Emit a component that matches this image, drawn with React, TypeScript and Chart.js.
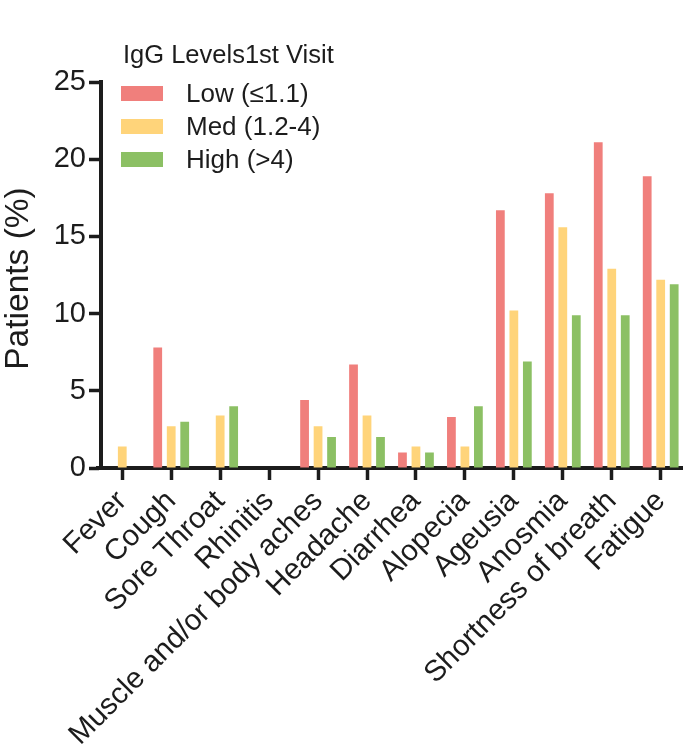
import React, { useEffect, useRef } from "react";
import { Chart, registerables } from "chart.js";

Chart.register(...registerables);

const categories = [
  "Fever",
  "Cough",
  "Sore Throat",
  "Rhinitis",
  "Muscle and/or body aches",
  "Headache",
  "Diarrhea",
  "Alopecia",
  "Ageusia",
  "Anosmia",
  "Shortness of breath",
  "Fatigue",
];
const lowValues = [0, 7.8, 0, 0, 4.4, 6.7, 1.0, 3.3, 16.7, 17.8, 21.1, 18.9];
const medValues = [1.4, 2.7, 3.4, 0, 2.7, 3.4, 1.4, 1.4, 10.2, 15.6, 12.9, 12.2];
const highValues = [0, 3.0, 4.0, 0, 2.0, 2.0, 1.0, 4.0, 6.9, 9.9, 9.9, 11.9];
const seriesLabels = ["Low (\u22641.1)", "Med (1.2-4)", "High (>4)"];
const legendTitle = "IgG Levels1st Visit";
const yTitle = "Patients (%)";
const yMin = 0;
const yMax = 25;
const yStep = 5;

const COLORS = ["#F07F7C", "#FFD47A", "#8CC064"];
const INK = "#1c1c1c";
const FONT = "'Liberation Sans', Arial, Helvetica, sans-serif";

const shiftXPlugin = {
  id: "shiftX",
  afterLayout(chart: any) {
    const x = chart.scales.x;
    x.left = chart.chartArea.left - 3.2;
    x.configure();
  },
};

const legendPlugin = {
  id: "customLegend",
  afterDraw(chart: any) {
    const ctx = chart.ctx;
    ctx.save();
    ctx.fillStyle = INK;
    ctx.font = `25.5px ${FONT}`;
    ctx.textAlign = "left";
    ctx.textBaseline = "alphabetic";
    ctx.fillText(legendTitle, 123, 63);
    chart.data.datasets.forEach((ds: any, i: number) => {
      const cy = 93.5 + i * 33;
      ctx.fillStyle = ds.backgroundColor;
      ctx.fillRect(121, cy - 7.5, 42, 15);
      ctx.fillStyle = INK;
      ctx.font = `26px ${FONT}`;
      ctx.textBaseline = "middle";
      ctx.fillText(ds.label, 186, cy + 1.5);
    });
    ctx.save();
    ctx.translate(19, 278.5);
    ctx.rotate(-Math.PI / 2);
    ctx.textAlign = "center";
    ctx.textBaseline = "middle";
    ctx.fillStyle = INK;
    ctx.font = `33.5px ${FONT}`;
    ctx.fillText(yTitle, 0, 0);
    ctx.restore();
    ctx.restore();
  },
};

export default function App() {
  const ref = useRef<HTMLCanvasElement | null>(null);
  useEffect(() => {
    document.body.style.overflow = "hidden";
    document.documentElement.style.overflow = "hidden";
    const canvas = ref.current!;
    const chart = new Chart(canvas, {
      type: "bar",
      data: {
        labels: categories,
        datasets: [lowValues, medValues, highValues].map((vals, i) => ({
          label: seriesLabels[i],
          data: vals,
          backgroundColor: COLORS[i],
          borderWidth: 0,
          categoryPercentage: 0.827,
          barPercentage: 0.65,
        })),
      },
      options: {
        responsive: false,
        animation: false,
        devicePixelRatio: 1,
        layout: { padding: { top: 82, right: 3.5, left: 0, bottom: 0 } },
        plugins: {
          legend: { display: false },
          tooltip: { enabled: false },
        },
        scales: {
          x: {
            offset: true,
            afterFit: (s: any) => {
              s.height = 754 - 468;
            },
            grid: {
              offset: false,
              drawOnChartArea: false,
              drawTicks: true,
              tickLength: 12,
              tickWidth: 3.5,
              tickColor: INK,
            },
            border: { display: true, color: INK, width: 4 },
            ticks: {
              autoSkip: false,
              maxRotation: 45,
              minRotation: 45,
              padding: 4,
              color: INK,
              font: { family: FONT, size: 29.5 },
            },
          },
          y: {
            min: yMin,
            max: yMax,
            afterFit: (s: any) => {
              s.width = 101;
            },
            grid: {
              drawOnChartArea: false,
              drawTicks: true,
              tickLength: 12,
              tickWidth: 3.5,
              tickColor: INK,
            },
            border: { display: true, color: INK, width: 4 },
            ticks: {
              stepSize: yStep,
              padding: 3,
              color: INK,
              font: { family: FONT, size: 29 },
            },
            title: { display: false },
          },
        },
      },
      plugins: [shiftXPlugin, legendPlugin],
    });
    return () => chart.destroy();
  }, []);
  return (
    <canvas
      ref={ref}
      width={690}
      height={754}
      style={{ position: "absolute", left: 0, top: 0, width: "690px", height: "754px" }}
    />
  );
}
